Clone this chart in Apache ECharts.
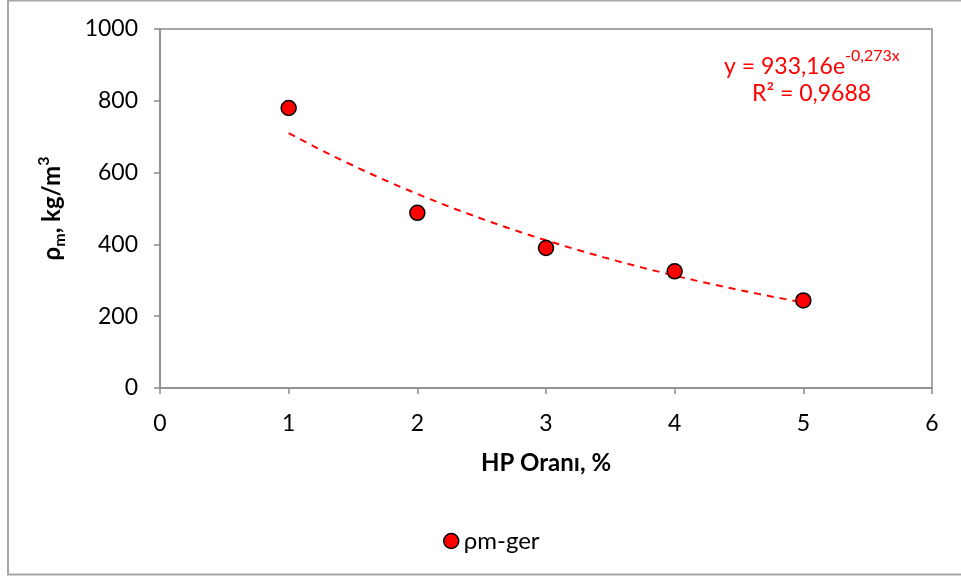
<!DOCTYPE html>
<html>
<head>
<meta charset="utf-8">
<title>ρm-ger</title>
<script src="https://cdn.jsdelivr.net/npm/echarts@6/dist/echarts.min.js"></script>
<style>
  html, body { margin: 0; padding: 0; background: #ffffff; }
  #chart { width: 961px; height: 579px; }
</style>
</head>
<body>
<div id="chart"></div>
<script>
// Measured density against HP ratio
const hpRatio = [1, 2, 3, 4, 5];
const density = [780, 488, 390, 325, 244];
const seriesName = 'ρm-ger';

// Exponential trendline y = A·e^(B·x), coefficients as printed on the chart
const trendA = 933.16;
const trendB = -0.273;
const trendR2 = '0,9688';
const trendFrom = 1;
const trendTo = 5;

const xTicks = { min: 0, max: 6, interval: 1 };
const yTicks = { min: 0, max: 1000, interval: 200 };

const trendPoints = [];
for (let i = 0; i <= 80; i++) {
  const x = trendFrom + (trendTo - trendFrom) * i / 80;
  trendPoints.push([x, trendA * Math.exp(trendB * x)]);
}
const scatterPoints = hpRatio.map((x, i) => [x, density[i]]);

const FONT = 'Lato, "Liberation Sans", sans-serif';
const fmt = (v, d) => v.toFixed(d).replace('.', ',');

const chart = echarts.init(document.getElementById('chart'), null, { renderer: 'canvas' });
chart.setOption({
  animation: false,
  backgroundColor: '#ffffff',
  textStyle: { fontFamily: FONT },
  grid: {
    left: 160, top: 29, right: 29, bottom: 191,
    show: true, borderColor: '#8c8c8c', borderWidth: 1.5, backgroundColor: '#ffffff'
  },
  xAxis: {
    type: 'value',
    min: xTicks.min, max: xTicks.max, interval: xTicks.interval,
    name: 'HP Oranı, %',
    nameLocation: 'middle',
    nameGap: 63,
    nameTextStyle: { fontFamily: FONT, fontSize: 24, fontWeight: 'bold', color: '#000' },
    axisLine: { show: true, onZero: false, lineStyle: { color: '#8c8c8c', width: 1.5 } },
    axisTick: { show: true, inside: false, length: 6, lineStyle: { color: '#8c8c8c', width: 1.5 } },
    axisLabel: { margin: 24, fontFamily: FONT, fontSize: 23, color: '#000', formatter: v => String(v) },
    splitLine: { show: false }
  },
  yAxis: {
    type: 'value',
    min: yTicks.min, max: yTicks.max, interval: yTicks.interval,
    name: '{b|ρ}{sub|m}{b|, kg/m}{sup|3}',
    nameLocation: 'middle',
    nameGap: 92,
    nameRotate: 90,
    nameTextStyle: {
      color: '#000',
      rich: {
        b: { fontFamily: FONT, fontSize: 24, fontWeight: 'bold', color: '#000', lineHeight: 32, verticalAlign: 'middle' },
        sub: { fontFamily: FONT, fontSize: 16, fontWeight: 'bold', color: '#000', lineHeight: 16, verticalAlign: 'bottom' },
        sup: { fontFamily: FONT, fontSize: 16, fontWeight: 'bold', color: '#000', lineHeight: 16, verticalAlign: 'top' }
      }
    },
    axisLine: { show: true, onZero: false, lineStyle: { color: '#8c8c8c', width: 1.5 } },
    axisTick: { show: true, inside: false, length: 6, lineStyle: { color: '#8c8c8c', width: 1.5 } },
    axisLabel: { margin: 22, fontFamily: FONT, fontSize: 23, color: '#000', formatter: v => String(v) },
    splitLine: { show: false }
  },
  legend: {
    data: [{ name: seriesName, icon: 'circle', itemStyle: { color: '#ff0000', borderColor: '#000', borderWidth: 1.5 } }],
    left: 438,
    top: 524,
    itemWidth: 15,
    itemHeight: 15,
    itemGap: 6,
    textStyle: { fontFamily: FONT, fontSize: 24, color: '#000' }
  },
  graphic: [
    {
      type: 'rect',
      silent: true,
      z: -10,
      shape: { x: 8, y: 0.5, width: 1000, height: 574 },
      style: { fill: 'none', stroke: '#a6a6a6', lineWidth: 2 }
    },
    {
      type: 'text',
      left: 724,
      top: 48,
      style: {
        text: '{t|y = ' + fmt(trendA, 2) + 'e}{s|' + fmt(trendB, 3) + 'x}',
        rich: {
          t: { fontFamily: FONT, fontSize: 23, fill: '#ff0000', lineHeight: 30, verticalAlign: 'bottom' },
          s: { fontFamily: FONT, fontSize: 16, fill: '#ff0000', lineHeight: 30, verticalAlign: 'top' }
        }
      }
    },
    {
      type: 'text',
      left: 752,
      top: 82,
      style: {
        text: 'R² = ' + trendR2,
        fontFamily: FONT, fontSize: 23, fill: '#ff0000'
      }
    }
  ],
  series: [
    {
      name: 'trend',
      type: 'line',
      data: trendPoints,
      showSymbol: false,
      symbol: 'none',
      smooth: false,
      silent: true,
      z: 1,
      lineStyle: { color: '#ff0000', width: 2, type: [7, 6] }
    },
    {
      name: seriesName,
      type: 'scatter',
      data: scatterPoints,
      symbol: 'circle',
      symbolSize: 15,
      z: 3,
      itemStyle: { color: '#ff0000', borderColor: '#000', borderWidth: 1.5, opacity: 1 }
    }
  ]
});
</script>
</body>
</html>
